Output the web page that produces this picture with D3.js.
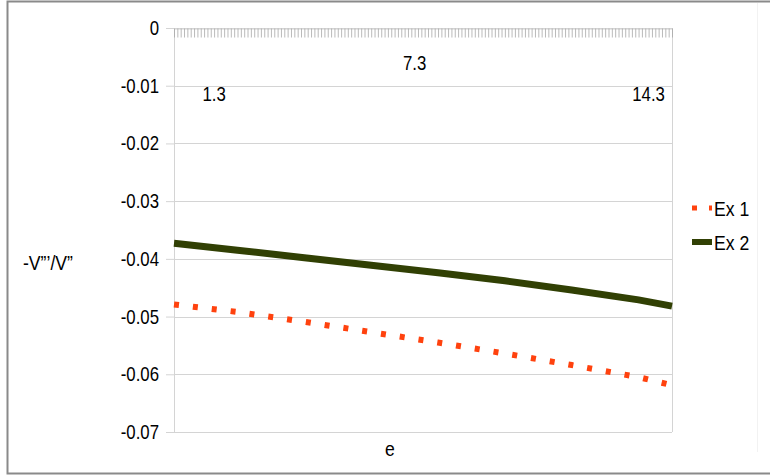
<!DOCTYPE html>
<html>
<head>
<meta charset="utf-8">
<script src="https://cdn.jsdelivr.net/npm/d3@7"></script>
<style>
  body { margin: 0; background: #fff; }
  svg text { font-family: "Liberation Sans", Arial, sans-serif; fill: #000; }
</style>
</head>
<body>
<div id="chart"></div>
<script>
// data
const eValues = [0.1, 2, 4, 6, 8, 10, 12, 14, 15];
const ex1 = [-0.0479, -0.0492, -0.0509, -0.0527, -0.0545, -0.0564, -0.0584, -0.0605, -0.0619];
const ex2 = [-0.0373, -0.0385, -0.0398, -0.0411, -0.0424, -0.0438, -0.0454, -0.0471, -0.0482];
const seriesNames = ["Ex 1", "Ex 2"];
const categoryLabels = [1.3, 7.3, 14.3];
const yTicks = [0, -0.01, -0.02, -0.03, -0.04, -0.05, -0.06, -0.07];

const width = 770;
const height = 476;
const plot = { left: 174, right: 672, top: 28, bottom: 432 };
const squeeze = 0.84; // the original font is a narrow one

const svg = d3
  .select("#chart")
  .append("svg")
  .attr("width", width)
  .attr("height", height);

// narrow text drawn at (tx, ty)
function addText(parent, tx, ty, str, size, anchor) {
  return parent.append("text")
    .attr("transform", `translate(${tx},${ty}) scale(${squeeze},1)`)
    .attr("text-anchor", anchor || "start")
    .attr("font-size", size)
    .text(str);
}

// outer frame
svg.append("path")
  .attr("d", `M${width},1.5 H7.5 V473.5 H${width}`)
  .attr("fill", "none")
  .attr("stroke", "#8a8a8a")
  .attr("stroke-width", 2);

svg.append("line")
  .attr("x1", 757.5).attr("x2", 757.5)
  .attr("y1", 3).attr("y2", 452)
  .attr("stroke", "#f2f2f2");

const x = d3.scaleLinear().domain([0.1, 15]).range([plot.left, plot.right]);
const y = d3.scaleLinear().domain([-0.07, 0]).range([plot.bottom, plot.top]);

// left axis ticks
const yAxis = svg.append("g")
  .attr("transform", `translate(${plot.left},0)`)
  .call(d3.axisLeft(y).tickValues(yTicks).tickSize(8).tickFormat(""));
yAxis.select(".domain").attr("stroke", "#d4d4d4");
yAxis.selectAll(".tick line").attr("stroke", "#d4d4d4");

const yLabels = svg.append("g");
yTicks.forEach((d) => {
  addText(yLabels, 159, y(d) + 7, d === 0 ? "0" : "-" + d3.format(".2f")(-d), 20, "end");
});

// grid lines
svg.append("g")
  .selectAll("line")
  .data(yTicks)
  .enter()
  .append("line")
  .attr("x1", plot.left)
  .attr("x2", plot.right)
  .attr("y1", (d) => Math.round(y(d)) + 0.5)
  .attr("y2", (d) => Math.round(y(d)) + 0.5)
  .attr("stroke", "#d4d4d4");

svg.append("line")
  .attr("x1", plot.right + 0.5).attr("x2", plot.right + 0.5)
  .attr("y1", plot.top).attr("y2", plot.bottom)
  .attr("stroke", "#d4d4d4");

// category axis sits on y = 0
const catTicks = d3.range(0, 150).map((i) => 0.1 + i * 0.1);
const xAxis = svg.append("g")
  .attr("transform", `translate(0,${Math.round(y(0)) + 0.5})`)
  .call(d3.axisBottom(x).tickValues(catTicks).tickSize(9).tickFormat(""));
xAxis.select(".domain").attr("stroke", "#d4d4d4");
xAxis.selectAll(".tick line").attr("stroke", "#a8a8a8").attr("stroke-width", 0.8);

// staggered category labels
const catLabels = svg.append("g");
categoryLabels.forEach((d, i) => {
  addText(catLabels, x(d), i % 2 === 0 ? 101 : 70, d, 20, "middle");
});

// lines
const seriesData = [ex1, ex2].map((vals) => vals.map((v, i) => [eValues[i], v]));
const colors = ["#ff420e", "#314004"];
const line = d3.line().x((d) => x(d[0])).y((d) => y(d[1]));

svg.append("path")
  .datum(seriesData[0])
  .attr("d", line)
  .attr("fill", "none")
  .attr("stroke", colors[0])
  .attr("stroke-width", 6)
  .attr("stroke-dasharray", "5,14");

svg.append("path")
  .datum(seriesData[1])
  .attr("d", line)
  .attr("fill", "none")
  .attr("stroke", colors[1])
  .attr("stroke-width", 7);

// axis titles
addText(svg, 23, 270, "-V\u201D\u2019/V\u201D", 21);
addText(svg, 390, 456, "e", 21, "middle");

// legend
const legend = svg.append("g");
seriesNames.forEach((name, i) => {
  const ly = 208 + i * 34;
  legend.append("line")
    .attr("x1", 692).attr("x2", 712)
    .attr("y1", ly).attr("y2", ly)
    .attr("stroke", colors[i])
    .attr("stroke-width", i === 0 ? 5 : 6)
    .attr("stroke-dasharray", i === 0 ? "5,12" : null);
  addText(legend, 714, ly + 8, name, 21);
});
</script>
</body>
</html>
